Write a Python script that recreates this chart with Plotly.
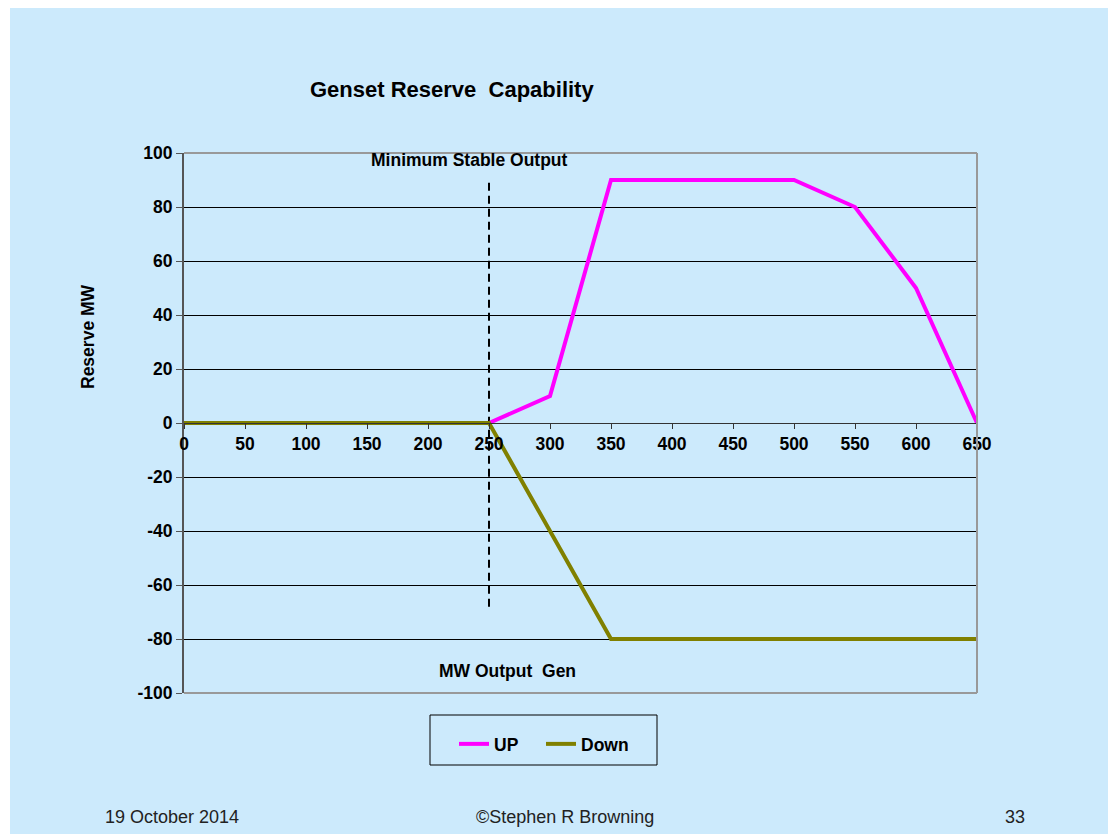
import plotly.graph_objects as go

# values
up_x = [250, 300, 350, 500, 550, 600, 650]
up_y = [0, 10, 90, 90, 80, 50, 0]
down_x = [0, 250, 300, 350, 650]
down_y = [0, 0, -40, -80, -80]
min_stable_x = [250, 250]
min_stable_y = [89, -69]
x_ticks = [0, 50, 100, 150, 200, 250, 300, 350, 400, 450, 500, 550, 600, 650]
y_ticks = [-100, -80, -60, -40, -20, 0, 20, 40, 60, 80, 100]

SLIDE_BLUE = "#cceafc"
FONT = "Liberation Sans, Arial, sans-serif"
TXT = 17.5


def px_x(px):
    # page pixel -> paper x (plot area spans 184..977)
    return (px - 184) / 793


def px_y(px):
    # page pixel -> paper y (plot area spans 153..693)
    return (693 - px) / 540


fig = go.Figure()
fig.add_trace(go.Scatter(
    x=min_stable_x, y=min_stable_y, mode="lines", showlegend=False,
    line=dict(color="black", width=2, dash="8px,5px"), hoverinfo="skip",
))
fig.add_trace(go.Scatter(
    x=up_x, y=up_y, name="UP", mode="lines",
    line=dict(color="#ff00ff", width=4),
))
fig.add_trace(go.Scatter(
    x=down_x, y=down_y, name="Down", mode="lines",
    line=dict(color="#808000", width=4),
))

fig.update_layout(
    width=1108,
    height=834,
    margin=dict(l=184, r=131, t=153, b=141),
    paper_bgcolor="white",
    plot_bgcolor="rgba(0,0,0,0)",
    font=dict(family=FONT, color="black"),
    showlegend=True,
    legend=dict(
        orientation="h",
        x=px_x(454), xanchor="left",
        y=px_y(726), yanchor="top",
        bgcolor="rgba(0,0,0,0)",
        borderwidth=0,
        font=dict(family=FONT, size=TXT, color="black", weight="bold"),
        itemwidth=30,
        entrywidth=42,
        tracegroupgap=0,
    ),
    xaxis=dict(
        range=[0, 650],
        tickvals=x_ticks,
        anchor="free",
        position=0.5,
        showline=True,
        linecolor="#333333",
        linewidth=1,
        ticks="outside",
        ticklen=5,
        tickcolor="#333333",
        showgrid=False,
        zeroline=False,
        tickfont=dict(family=FONT, size=TXT, weight="bold"),
    ),
    yaxis=dict(
        range=[-100, 100],
        tickvals=y_ticks,
        ticktext=[str(v) for v in y_ticks],
        showline=True,
        linecolor="#555555",
        linewidth=2,
        ticks="outside",
        ticklen=6,
        tickcolor="#555555",
        showgrid=True,
        gridcolor="black",
        gridwidth=1,
        zeroline=False,
        tickfont=dict(family=FONT, size=TXT, weight="bold"),
    ),
    shapes=[
        # slide background
        dict(type="rect", xref="paper", yref="paper",
             x0=px_x(10), x1=px_x(1120), y0=px_y(850), y1=px_y(8),
             fillcolor=SLIDE_BLUE, line=dict(width=0), layer="below"),
        # plot area border (top, right, bottom)
        dict(type="line", xref="paper", yref="paper", x0=0, x1=1, y0=1, y1=1,
             line=dict(color="#999999", width=2)),
        dict(type="line", xref="paper", yref="paper", x0=1, x1=1, y0=0, y1=1,
             line=dict(color="#999999", width=2)),
        dict(type="line", xref="paper", yref="paper", x0=0, x1=1, y0=0, y1=0,
             line=dict(color="#999999", width=2)),
        # legend frame
        dict(type="rect", xref="paper", yref="paper",
             x0=px_x(430), x1=px_x(657), y0=px_y(765), y1=px_y(715),
             line=dict(color="black", width=1)),
    ],
    annotations=[
        dict(text="Genset Reserve  Capability", xref="paper", yref="paper",
             x=px_x(452), y=px_y(89), showarrow=False,
             xanchor="center", yanchor="middle",
             font=dict(family=FONT, size=22, weight="bold")),
        dict(text="Reserve MW", xref="paper", yref="paper",
             x=px_x(88), y=px_y(337), showarrow=False, textangle=-90,
             xanchor="center", yanchor="middle",
             font=dict(family=FONT, size=TXT, weight="bold")),
        dict(text="Minimum Stable Output", xref="x", yref="y",
             x=234, y=97.4, showarrow=False, xanchor="center", yanchor="middle",
             font=dict(family=FONT, size=TXT, weight="bold")),
        dict(text="MW Output  Gen", xref="x", yref="y",
             x=265, y=-91.9, showarrow=False, xanchor="center", yanchor="middle",
             font=dict(family=FONT, size=TXT, weight="bold")),
        dict(text="19 October 2014", xref="paper", yref="paper",
             x=px_x(172), y=px_y(817), showarrow=False,
             xanchor="center", yanchor="middle",
             font=dict(family=FONT, size=18, color="#222222")),
        dict(text="©Stephen R Browning", xref="paper", yref="paper",
             x=px_x(565), y=px_y(817), showarrow=False,
             xanchor="center", yanchor="middle",
             font=dict(family=FONT, size=18, color="#222222")),
        dict(text="33", xref="paper", yref="paper",
             x=px_x(1015), y=px_y(817), showarrow=False,
             xanchor="center", yanchor="middle",
             font=dict(family=FONT, size=18, color="#222222")),
    ],
)

# drop the browser's default 8px body margin so the figure sits at 0,0
fig.write_html(
    "out.html",
    config={"displayModeBar": False},
    post_script="document.body.style.margin='0';document.body.style.overflow='hidden';",
)
